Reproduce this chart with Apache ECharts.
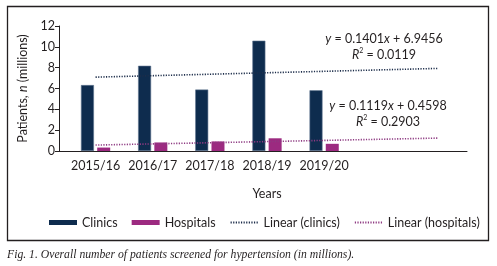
<!DOCTYPE html>
<html><head><meta charset="utf-8">
<script src="https://cdn.jsdelivr.net/npm/echarts@6/dist/echarts.min.js"></script>
<style>html,body{margin:0;padding:0;background:#fff}#c{width:497px;height:266px}</style>
</head><body><div id="c"></div>
<script>
var categories = ['2015/16','2016/17','2017/18','2018/19','2019/20','',''];
var clinics = [6.33, 8.18, 5.90, 10.59, 5.83, null, null];
var hospitals = [0.33, 0.82, 0.92, 1.22, 0.69, null, null];
// trendline end values (Excel linear trend, forecast forward 2 periods)
var trendClinics = [7.09, null, null, null, null, null, 7.93];
var trendHospitals = [0.57, null, null, null, null, null, 1.24];
var yTicks = [0, 12, 2];
var eqClinics = ['0.1401', '6.9456', '0.0119'];
var eqHospitals = ['0.1119', '0.4598', '0.2903'];

var FONT = 'Lato, "Open Sans", sans-serif';
var chart = echarts.init(document.getElementById('c'), null, {renderer: 'canvas'});
function eqText(e){
  return ['{i|y} = ' + e[0] + '{i|x} + ' + e[1], '{i|R}{s|2} = ' + e[2]].join('\n');
}
var eqRich = {
  i: {fontStyle: 'italic', fontFamily: FONT, fontSize: 12.5, color: '#231f20'},
  s: {fontFamily: FONT, fontSize: 7, color: '#231f20', verticalAlign: 'top', padding: [0,0,6,0]}
};
var lineLegendItem = function(n){ return {name: n, itemStyle: {opacity: 0}}; };
chart.setOption({
  animation: false,
  backgroundColor: '#fff',
  textStyle: {fontFamily: FONT},
  grid: [
    {left: 67, right: 30, top: 26, bottom: 115},
    {left: 59, right: 30, top: 26, bottom: 115}
  ],
  xAxis: [
    {type: 'category', gridIndex: 0, data: categories,
     axisLine: {show: false}, axisTick: {show: false},
     axisLabel: {color: '#231f20', fontSize: 12.5, margin: 8, interval: 0},
     name: 'Years', nameLocation: 'middle', nameGap: 36,
     nameTextStyle: {color: '#231f20', fontSize: 12.5}},
    {type: 'value', gridIndex: 1, min: 0, max: 1,
     axisLine: {show: true, lineStyle: {color: '#231f20', width: 1}},
     axisTick: {show: false}, axisLabel: {show: false}, splitLine: {show: false}}
  ],
  yAxis: [
    {type: 'value', gridIndex: 0, min: yTicks[0], max: yTicks[1], interval: yTicks[2], offset: 8,
     axisLine: {show: true, lineStyle: {color: '#231f20', width: 1}},
     axisTick: {show: true, length: 4, lineStyle: {color: '#231f20'}},
     axisLabel: {color: '#231f20', fontSize: 12.5, margin: 4},
     splitLine: {show: false},
     name: 'Patients, {i|n} (millions)', nameLocation: 'middle', nameGap: 14,
     nameTextStyle: {color: '#231f20', fontSize: 12.5,
       rich: {i: {fontStyle: 'italic', fontSize: 12.5, color: '#231f20', fontFamily: FONT}}}},
    {type: 'value', gridIndex: 1, min: 0, max: 12, show: false}
  ],
  legend: {
    left: 44, top: 211, itemWidth: 28, itemHeight: 5, itemGap: 14,
    textStyle: {color: '#231f20', fontSize: 12.5, fontFamily: FONT},
    data: [
      {name: 'Clinics', icon: 'rect', itemStyle: {borderWidth: 0}},
      {name: 'Hospitals', icon: 'rect'},
      lineLegendItem('Linear (clinics)'),
      lineLegendItem('Linear (hospitals)')
    ]
  },
  series: [
    {name: 'Clinics', type: 'bar', data: clinics, barWidth: 13, barGap: '25%',
     itemStyle: {color: '#0e2c4e', borderColor: '#5f7590', borderWidth: 0.6}},
    {name: 'Hospitals', type: 'bar', data: hospitals, barWidth: 13,
     itemStyle: {color: '#9c2a80'}},
    {name: 'Linear (clinics)', type: 'line', data: trendClinics, connectNulls: true,
     symbol: 'none', z: 5,
     lineStyle: {color: '#1c2d4a', width: 1.6, type: [1.2, 1.4]},
     itemStyle: {color: '#1c2d4a'}},
    {name: 'Linear (hospitals)', type: 'line', data: trendHospitals, connectNulls: true,
     symbol: 'none', z: 5,
     lineStyle: {color: '#8e3a82', width: 1.6, type: [1.2, 1.4]},
     itemStyle: {color: '#8e3a82'}}
  ],
  graphic: [
    {type: 'rect', shape: {x: 7.5, y: 6.5, width: 481, height: 234}, silent: true,
     style: {fill: null, stroke: '#231f20', lineWidth: 1.3}},
    {type: 'text', x: 384, y: 31, style: {text: eqText(eqClinics), rich: eqRich, align: 'center',
      fontFamily: FONT, fontSize: 12.5, fill: '#231f20', lineHeight: 16}},
    {type: 'text', x: 388, y: 98, style: {text: eqText(eqHospitals), rich: eqRich, align: 'center',
      fontFamily: FONT, fontSize: 12.5, fill: '#231f20', lineHeight: 16}},
    {type: 'text', x: 7, y: 249, style: {text: 'Fig. 1. Overall number of patients screened for hypertension (in millions).',
      fontFamily: '"Liberation Serif", serif', fontStyle: 'italic', fontSize: 11.7, fill: '#231f20'}}
  ]
});
</script></body></html>
